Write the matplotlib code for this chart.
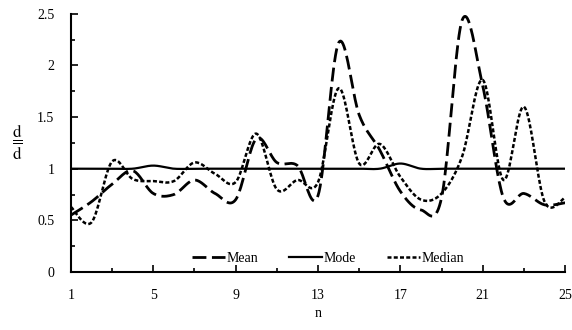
import numpy as np
import matplotlib
matplotlib.use('Agg')
import matplotlib.pyplot as plt
from matplotlib.ticker import FixedLocator

plt.rcParams['font.family'] = 'Liberation Serif'
plt.rcParams['mathtext.fontset'] = 'stix'

n = list(range(1, 26))
mean = [0.55, 0.68, 0.85, 0.98, 0.76, 0.75, 0.89, 0.76, 0.70, 1.29, 1.06, 1.03, 0.74,
        2.22, 1.52, 1.18, 0.78, 0.60, 0.72, 2.44, 1.80, 0.72, 0.76, 0.65, 0.67]
mode = [1, 1, 1, 1, 1.03, 1, 1, 1, 1, 1, 1, 1, 1,
        1, 1, 1, 1.05, 1, 1, 1, 1, 1, 1, 1, 1]
median = [0.63, 0.48, 1.07, 0.90, 0.88, 0.88, 1.06, 0.95, 0.87, 1.34, 0.80, 0.89, 0.87,
          1.78, 1.05, 1.24, 0.92, 0.70, 0.76, 1.12, 1.86, 0.89, 1.60, 0.68, 0.72]

xticks = [1, 5, 9, 13, 17, 21, 25]
xminor = [3, 7, 11, 15, 19, 23]
yticks = [0, 0.5, 1, 1.5, 2, 2.5]
ylabels = ['0', '0.5', '1', '1.5', '2', '2.5']
yminor = [0.25, 0.75, 1.25, 1.75, 2.25]


def smooth(x, y, steps=20):
    # excel style smoothed line: bezier through the points
    x = np.asarray(x, float)
    y = np.asarray(y, float)
    xs, ys = [], []
    for i in range(len(x) - 1):
        x0, y0 = x[max(i - 1, 0)], y[max(i - 1, 0)]
        x3, y3 = x[min(i + 2, len(x) - 1)], y[min(i + 2, len(x) - 1)]
        c1x = x[i] + (x[i + 1] - x0) / 6
        c1y = y[i] + (y[i + 1] - y0) / 6
        c2x = x[i + 1] - (x3 - x[i]) / 6
        c2y = y[i + 1] - (y3 - y[i]) / 6
        t = np.linspace(0, 1, steps, endpoint=False)
        a, b, c, d = (1 - t) ** 3, 3 * t * (1 - t) ** 2, 3 * t ** 2 * (1 - t), t ** 3
        xs.extend(a * x[i] + b * c1x + c * c2x + d * x[i + 1])
        ys.extend(a * y[i] + b * c1y + c * c2y + d * y[i + 1])
    xs.append(x[-1])
    ys.append(y[-1])
    return xs, ys


fig = plt.figure(figsize=(5.72, 3.30), dpi=100)
ax = fig.add_axes([0.124, 0.176, 0.864, 0.782])

xm, ym = smooth(n, mean)
ax.plot(xm, ym, color='black', lw=2, dashes=(5, 2), label='Mean')
xo, yo = smooth(n, mode)
ax.plot(xo, yo, color='black', lw=1.6, label='Mode')
xd, yd = smooth(n, median)
ax.plot(xd, yd, color='black', lw=1.8, dashes=(1.6, 0.9), label='Median')

ax.set_xlim(1, 25)
ax.set_ylim(0, 2.5)
ax.set_xticks(xticks)
ax.set_xticklabels([str(v) for v in xticks])
ax.xaxis.set_minor_locator(FixedLocator(xminor))
ax.set_yticks(yticks)
ax.set_yticklabels(ylabels)
ax.yaxis.set_minor_locator(FixedLocator(yminor))
ax.tick_params(which='both', direction='in', labelsize=10, width=1.2)
ax.tick_params(which='major', length=5)
ax.tick_params(which='minor', length=3)
ax.tick_params(axis='x', pad=12)
ax.tick_params(axis='y', pad=12)
for s in ['top', 'right']:
    ax.spines[s].set_visible(False)
for s in ['left', 'bottom']:
    ax.spines[s].set_linewidth(1.5)

ax.set_xlabel('n', fontsize=10, labelpad=4)
ax.set_ylabel(r'$\dfrac{\mathrm{d}}{\overline{\mathrm{d}}}$', fontsize=12, rotation=0,
              labelpad=14, va='center')

ax.legend(loc='lower center', bbox_to_anchor=(0.52, -0.02), ncol=3, frameon=False,
          fontsize=10, handlelength=2.4, handletextpad=0.1, columnspacing=2.2)

fig.savefig('out.png', dpi=100)
